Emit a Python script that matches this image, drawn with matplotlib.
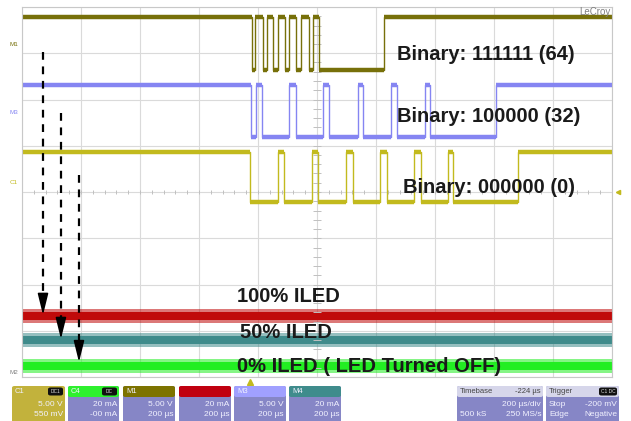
import numpy as np
import matplotlib.pyplot as plt
from matplotlib.patches import FancyBboxPatch

W, H = 631, 421
plt.rcParams["font.family"] = ["Liberation Sans", "DejaVu Sans"]

# digital traces: switching instants in divisions (200 us/div), trace starts high
m1_edges = [3.90, 3.95, 4.08, 4.15, 4.25, 4.34, 4.46, 4.53, 4.64, 4.73, 4.86, 4.93, 5.03, 6.14]
m3_edges = [3.88, 3.97, 4.07, 4.53, 4.64, 5.10, 5.20, 5.69, 5.78, 6.25, 6.36, 6.83, 6.92, 8.03]
c1_edges = [3.86, 4.34, 4.44, 4.92, 5.02, 5.49, 5.61, 6.07, 6.19, 6.64, 6.76, 7.22, 7.31, 8.41]
m1_levels = [7.78, 6.64]
m3_levels = [6.31, 5.19]
c1_levels = [4.86, 3.78]

# LED current traces (screen divisions)
led_labels = ["100% ILED", "50% ILED", "0% ILED ( LED Turned OFF)"]
led_levels = [1.32, 0.80, 0.24]
led_colors = ["#c00a0a", "#3f8b8b", "#22ee22"]

binary_labels = ["Binary: 111111 (64)", "Binary: 100000 (32)", "Binary: 000000 (0)"]

# bottom descriptor boxes
box_names = ["C1", "C4", "M1", "", "M3", "M4"]
box_line1 = ["5.00 V", "20 mA", "5.00 V", "20 mA", "5.00 V", "20 mA"]
box_line2 = ["550 mV", "-00 mA", "200 \u00b5s", "200 \u00b5s", "200 \u00b5s", "200 \u00b5s"]
box_colors = ["#c2b23c", "#2ef02e", "#7d7300", "#c00010", "#a0a0ff", "#3f8c8c"]
box_x = [(12, 65), (68, 119), (123, 175), (179, 231), (234, 286), (289, 341)]


def px(x, y):
    return x / W, 1 - y / H


def square(edges, levels):
    hi, lo = levels
    xs, ys = [0.0], [hi]
    lvl = hi
    for e in edges:
        nxt = lo if lvl == hi else hi
        xs += [e, e]
        ys += [lvl, nxt]
        lvl = nxt
    xs.append(10.0)
    ys.append(lvl)
    return np.array(xs), np.array(ys)


fig = plt.figure(figsize=(W / 100, H / 100), dpi=100)
x0, y0 = px(22, 377)
x1, y1 = px(612, 7)
ax = fig.add_axes([x0, y0, x1 - x0, y1 - y0])
ax.set_xlim(0, 10)
ax.set_ylim(0, 8)
ax.set_xticks(range(11))
ax.set_yticks(range(9))
ax.tick_params(length=0, labelbottom=False, labelleft=False)
ax.grid(color="#dadada", lw=0.8)
ax.set_axisbelow(True)
for s in ax.spines.values():
    s.set_color("#c8c8c8")
    s.set_linewidth(0.8)

# centre graticule ticks
tx = np.arange(0, 10.01, 0.2)
ty = np.arange(0, 8.01, 0.2)
ax.vlines(tx, 4 - 0.05, 4 + 0.05, color="#c0c0c0", lw=0.7)
ax.hlines(ty, 5 - 0.06, 5 + 0.06, color="#c0c0c0", lw=0.7)

for edges, levels, col in [(m1_edges, m1_levels, "#77700a"),
                           (m3_edges, m3_levels, "#8585f2"),
                           (c1_edges, c1_levels, "#c2ba1e")]:
    xs, ys = square(edges, levels)
    ax.plot(xs, ys, color=col, lw=1.0)
    ax.hlines(ys[::2], xs[::2], xs[1::2], color=col, lw=3.2)

for lvl, col in zip(led_levels, led_colors):
    ax.fill_between([0, 10], lvl - 0.15, lvl + 0.15, color=col, alpha=0.55, lw=0)
    ax.fill_between([0, 10], lvl - 0.08, lvl + 0.08, color=col, lw=0)

# dashed arrows pointing at LED traces
for xa, ytop, ytip in [(0.356, 7.03, 1.34), (0.66, 5.71, 0.82), (0.966, 4.37, 0.32)]:
    ax.plot([xa, xa], [ytop, ytip + 0.3], color="black", lw=1.6, dashes=(3.5, 3))
    ax.annotate("", xy=(xa, ytip), xytext=(xa, ytip + 0.42),
                arrowprops=dict(arrowstyle="-|>,head_length=1.3,head_width=0.32",
                                mutation_scale=10, color="black", lw=1.2,
                                shrinkA=0, shrinkB=0))

# trigger markers
ax.plot([3.86], [-0.1], marker="^", ms=4, color="#c2ba1e", clip_on=False)
ax.plot([10.1], [4.0], marker="<", ms=3, color="#c2ba1e", clip_on=False)

for lab, (x, y) in zip(binary_labels, [(397, 54), (397, 116), (403, 188)]):
    fig.text(*px(x, y), lab, fontsize=14.5, fontweight="bold", va="center", ha="left",
             color="#1a1a1a")
for lab, (x, y) in zip(led_labels, [(237, 296), (240, 332), (237, 367)]):
    fig.text(*px(x, y), lab, fontsize=14.5, fontweight="bold", va="center", ha="left",
             color="#1a1a1a")

fig.text(*px(611, 12), "LeCroy", fontsize=7, color="#808080", ha="right", va="center")
for lab, col, y in [("M1", "#77700a", 45), ("M3", "#8585f2", 113), ("C1", "#c2ba1e", 182),
                    ("M2", "#808080", 372)]:
    fig.text(*px(14, y), lab, fontsize=4.5, color=col, ha="center", va="center")


def fbox(xa, xb, ya, yb, color, **kw):
    fx0, fy1 = px(xa, ya)
    fx1, fy0 = px(xb, yb)
    fig.patches.append(FancyBboxPatch((fx0, fy0), fx1 - fx0, fy1 - fy0,
                                      boxstyle="round,pad=0,rounding_size=0.004",
                                      transform=fig.transFigure, facecolor=color,
                                      edgecolor="none", **kw))


body = "#8686c6"
txt = "#f2f2ff"
for i, (name, l1, l2, col, (xa, xb)) in enumerate(zip(box_names, box_line1, box_line2,
                                                       box_colors, box_x)):
    if i == 0:
        fbox(xa, xb, 386, 424, col)
    else:
        fbox(xa, xb, 386, 424, body)
        fbox(xa, xb, 386, 397, col)
    fig.text(*px(xa + 3, 391.5), name, fontsize=5.5, color=txt, va="center")
    fig.text(*px(xb - 2, 404), l1, fontsize=6, color=txt, va="center", ha="right")
    fig.text(*px(xb - 2, 415), l2, fontsize=6, color=txt, va="center", ha="right")
    if i < 2:
        fbox(xb - 17, xb - 2, 387.5, 395.5, "#111111")
        fig.text(*px(xb - 9.5, 391.5), "DC1" if i == 0 else "DC", fontsize=3.5,
                 color="#dddddd", ha="center", va="center")

# timebase / trigger
for (xa, xb), head, rest, l1a, l1b, l2a, l2b in [
        ((457, 543), "Timebase", "-224 \u00b5s", "", "200 \u00b5s/div", "500 kS", "250 MS/s"),
        ((546, 619), "Trigger", "", "Stop", "-200 mV", "Edge", "Negative")]:
    fbox(xa, xb, 386, 424, body)
    fbox(xa, xb, 386, 397, "#d6d6ea")
    fig.text(*px(xa + 3, 391.5), head, fontsize=5.5, color="#444444", va="center")
    if rest:
        fig.text(*px(xb - 2, 391.5), rest, fontsize=5.5, color="#444444", va="center",
                 ha="right")
    else:
        fbox(xb - 20, xb - 2, 387.5, 395.5, "#111111")
        fig.text(*px(xb - 11, 391.5), "C1 DC", fontsize=3.5, color="#dddddd",
                 ha="center", va="center")
    if l1a:
        fig.text(*px(xa + 3, 404), l1a, fontsize=6, color=txt, va="center")
    fig.text(*px(xb - 2, 404), l1b, fontsize=6, color=txt, va="center", ha="right")
    fig.text(*px(xa + 3, 415), l2a, fontsize=6, color=txt, va="center")
    fig.text(*px(xb - 2, 415), l2b, fontsize=6, color=txt, va="center", ha="right")

fig.savefig("out.png", dpi=100)
